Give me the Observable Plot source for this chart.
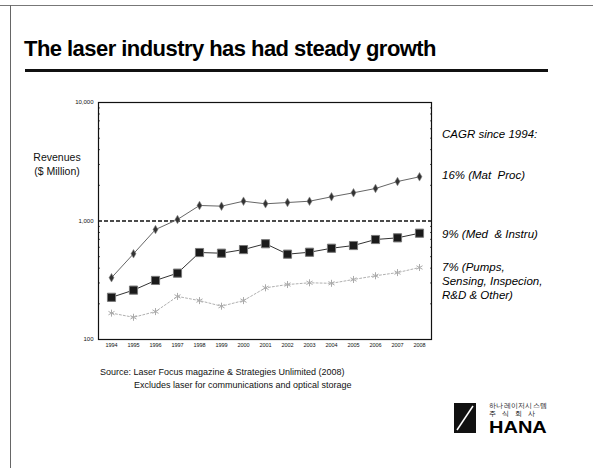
<!DOCTYPE html>
<html><head><meta charset="utf-8">
<script src="https://cdn.jsdelivr.net/npm/d3@7"></script>
<script src="https://cdn.jsdelivr.net/npm/@observablehq/plot@0.6"></script>
<style>
html,body{margin:0;padding:0;background:#fff;}
#page{position:relative;width:593px;height:468px;overflow:hidden;font-family:"Liberation Sans",Arial,sans-serif;color:#111;background:#fff;}
.t{position:absolute;white-space:nowrap;line-height:1;}
#chart{position:absolute;left:0;top:0;}
.lab{font-style:italic;font-size:11.5px;left:442px;color:#000;}
</style></head><body>
<div id="page">
  <div style="position:absolute;left:0;top:5px;width:593px;height:0;border-top:1px solid #777;"></div>
  <div style="position:absolute;left:10px;top:5px;width:0;height:463px;border-left:1px solid #666;"></div>
  <div class="t" id="title" style="left:24px;top:38px;font-size:22px;font-weight:bold;letter-spacing:-0.55px;color:#000;">The laser industry has had steady growth</div>
  <div style="position:absolute;left:25px;top:69px;width:523px;height:3px;background:#111;"></div>
  <div id="chart"></div>
  <div class="t" style="left:30px;top:152px;font-size:10.5px;width:54px;text-align:center;">Revenues</div>
  <div class="t" style="left:30px;top:166px;font-size:10.5px;width:54px;text-align:center;">($ Million)</div>
  <div class="t lab" style="top:129.4px;">CAGR since 1994:</div>
  <div class="t lab" style="top:170.4px;">16% (Mat&nbsp; Proc)</div>
  <div class="t lab" style="top:229.4px;">9% (Med&nbsp; &amp; Instru)</div>
  <div class="t lab" style="top:262.4px;">7% (Pumps,</div>
  <div class="t lab" style="top:276.2px;">Sensing, Inspecion,</div>
  <div class="t lab" style="top:289.6px;">R&amp;D &amp; Other)</div>
  <div class="t" style="left:100px;top:367.8px;font-size:9px;">Source: Laser Focus magazine &amp; Strategies Unlimited (2008)</div>
  <div class="t" style="left:134px;top:380.8px;font-size:9px;">Excludes laser for communications and optical storage</div>
  <svg style="position:absolute;left:454px;top:403px;" width="22" height="30"><rect x="0" y="0" width="22" height="30" fill="#111"/><line x1="3" y1="27" x2="19" y2="3" stroke="#fff" stroke-width="1.5"/></svg>
  <div class="t" style="left:489px;top:403px;font-size:6.5px;letter-spacing:0.3px;">하나레이저시스템</div>
  <div class="t" style="left:489px;top:411px;font-size:6.5px;letter-spacing:6px;">주식회사</div>
  <div class="t" style="left:489px;top:419.5px;font-size:16px;font-weight:900;transform:scaleX(1.25);transform-origin:left top;color:#000;">HANA</div>
</div>
<script>
const years = [1994,1995,1996,1997,1998,1999,2000,2001,2002,2003,2004,2005,2006,2007,2008];
const matProc = [332,529,847,1030,1352,1334,1469,1397,1432,1469,1600,1730,1881,2154,2360];
const medInstru = [227,261,315,363,542,535,574,643,525,545,589,621,698,721,789];
const pumpsOther = [167,154,172,231,213,191,213,273,291,301,298,321,345,367,405];
const yTicks = [100,1000,10000];
const yTickLabels = ["100","1,000","10,000"];
const minorTicks = [200,300,400,500,600,700,800,900,2000,3000,4000,5000,6000,7000,8000,9000];
const refLine = [1000];

const rows = (vals) => years.map((y,i) => ({year:y, value:vals[i]}));
const A = rows(matProc), B = rows(medInstru), C = rows(pumpsOther);

const chart = Plot.plot({
  width: 593, height: 468,
  marginLeft: 98, marginRight: 162, marginTop: 102, marginBottom: 129,
  style: {fontFamily: "'Liberation Sans', Arial, sans-serif", background: "transparent", color: "#111"},
  x: {type: "point", domain: years, insetLeft: 11, insetRight: 10, padding: 0},
  y: {type: "log", domain: [100, 10000]},
  marks: [
    Plot.axisX({tickSize: 0, tickPadding: 4, fontSize: 5.5, tickFormat: d => String(d), label: null}),
    Plot.axisY({ticks: yTicks, tickSize: 0, tickPadding: 5, fontSize: 6, tickFormat: (d) => yTickLabels[yTicks.indexOf(d)], label: null}),
    Plot.axisY({ticks: minorTicks, tickSize: -2, text: null, label: null, stroke: "#555"}),
    Plot.axisY({anchor: "right", ticks: minorTicks, tickSize: -2, text: null, label: null, stroke: "#555"}),
    Plot.frame({stroke: "#111", strokeWidth: 1.2}),
    Plot.ruleY(refLine, {stroke: "#111", strokeWidth: 1.3, strokeDasharray: "4,2"}),
    Plot.line(C, {x: "year", y: "value", stroke: "#b0b0b0", strokeWidth: 1, strokeDasharray: "2,2"}),
    Plot.line(B, {x: "year", y: "value", stroke: "#333", strokeWidth: 1}),
    Plot.line(A, {x: "year", y: "value", stroke: "#666", strokeWidth: 1}),
    Plot.dot(C, {x: "year", y: "value", symbol: "asterisk", r: 3.3, stroke: "#aaa", strokeWidth: 1}),
    Plot.dot(B, {x: "year", y: "value", symbol: "square", r: 4.6, fill: "#1a1a1a", stroke: "#777", strokeWidth: 1}),
    Plot.dot(A, {x: "year", y: "value", symbol: "diamond", r: 2.6, fill: "#333", stroke: "#888", strokeWidth: 0.6})
  ]
});
document.getElementById("chart").appendChild(chart);
</script>
</body></html>
